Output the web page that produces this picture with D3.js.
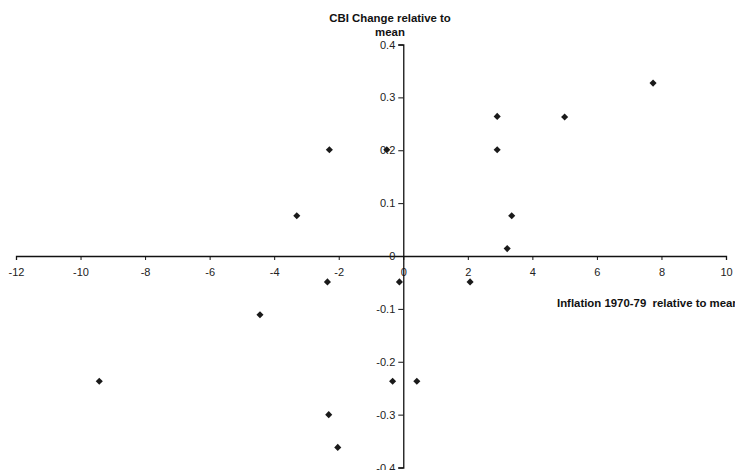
<!DOCTYPE html>
<html>
<head>
<meta charset="utf-8">
<script src="https://cdn.jsdelivr.net/npm/d3@7"></script>
<style>
  body { margin: 0; background: #fff; }
  svg { display: block; font-family: "Liberation Sans", Arial, sans-serif; }
  .axis text { font-size: 11px; fill: #222; }
  .axis path, .axis line { stroke: #111; }
  .title { font-size: 11.4px; font-weight: bold; fill: #111; white-space: pre; }
</style>
</head>
<body>
<div id="chart"></div>
<script>
// inflation 1970-79 relative to mean
var inflation = [-9.42, -4.44, -3.30, -2.29, -2.35, -2.31, -2.03, -0.51, -0.12,
                 -0.33, 0.42, 2.07, 2.91, 2.91, 3.36, 3.22, 5.00, 7.74];
// CBI change relative to mean
var cbiChange = [-0.237, -0.111, 0.076, 0.201, -0.049, -0.300, -0.362, 0.201, -0.049,
                 -0.237, -0.237, -0.049, 0.264, 0.201, 0.076, 0.014, 0.263, 0.327];
var xTicks = [-12, -10, -8, -6, -4, -2, 0, 2, 4, 6, 8, 10];
var yTicks = [-0.4, -0.3, -0.2, -0.1, 0, 0.1, 0.2, 0.3, 0.4];

function init() {
    var w = 735;
    var h = 470;

    var dataset = inflation.map(function(d, i) { return { x: d, y: cbiChange[i] }; });

    // scales
    var xScale = d3.scaleLinear()
                   .domain([-12, 10])
                   .range([16, 726]);
    var yScale = d3.scaleLinear()
                   .domain([-0.4, 0.4])
                   .range([467.5, 44.5]);

    var svg = d3.select("#chart")
                .append("svg")
                .attr("width", w)
                .attr("height", h);

    // x axis crosses at y = 0
    var xAxis = d3.axisBottom(xScale)
                  .tickValues(xTicks)
                  .tickSize(4)
                  .tickSizeOuter(4)
                  .tickPadding(8)
                  .tickFormat(function(d) { return String(d); });
    svg.append("g")
       .attr("class", "axis")
       .attr("transform", "translate(0," + yScale(0) + ")")
       .call(xAxis)
       .call(function(g) { g.select(".domain").attr("stroke-width", 1.3); });

    // y axis crosses at x = 0
    var yAxis = d3.axisLeft(yScale)
                  .tickValues(yTicks)
                  .tickSize(5)
                  .tickSizeOuter(5)
                  .tickPadding(3)
                  .tickFormat(function(d) { return d === 0 ? "0" : d.toFixed(1); });
    svg.append("g")
       .attr("class", "axis")
       .attr("transform", "translate(" + xScale(0) + ",0)")
       .call(yAxis)
       .call(function(g) { g.select(".domain").attr("stroke-width", 1.3); });

    // diamond markers
    var diamond = d3.symbol().type(d3.symbolDiamond2).size(32);
    svg.selectAll("path.pt")
       .data(dataset)
       .enter()
       .append("path")
       .attr("class", "pt")
       .attr("d", diamond)
       .attr("transform", function(d) { return "translate(" + xScale(d.x) + "," + yScale(d.y) + ")"; })
       .attr("fill", "#1a1a1a");

    // axis titles
    svg.append("text")
       .attr("class", "title")
       .attr("text-anchor", "middle")
       .attr("x", 390)
       .attr("y", 22)
       .text("CBI Change relative to");
    svg.append("text")
       .attr("class", "title")
       .attr("text-anchor", "middle")
       .attr("x", 390)
       .attr("y", 36)
       .text("mean");
    svg.append("text")
       .attr("class", "title")
       .attr("x", 557)
       .attr("y", 307)
       .text("Inflation 1970-79  relative to mean");
}
window.onload = init;
</script>
</body>
</html>
